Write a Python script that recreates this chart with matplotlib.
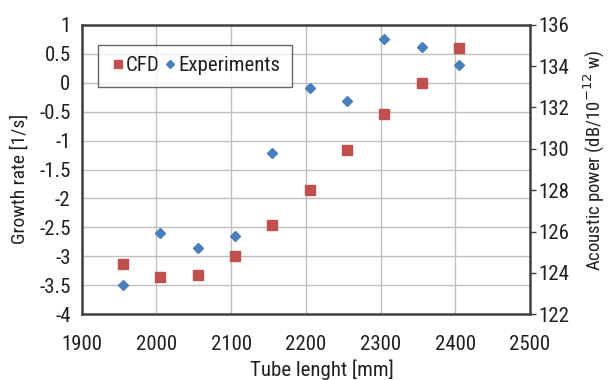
import matplotlib.pyplot as plt
from matplotlib import font_manager

# ----------------------------
# Data
# ----------------------------
tube_length = [1955, 2005, 2055, 2105, 2155, 2205, 2255, 2305, 2355, 2405]
cfd_growth = [-3.14, -3.35, -3.32, -3.0, -2.46, -1.86, -1.17, -0.55, 0.0, 0.59]
exp_growth = [-3.5, -2.6, -2.85, -2.64, -1.21, -0.09, -0.32, 0.75, 0.62, 0.31]

x_ticks = [1900, 2000, 2100, 2200, 2300, 2400, 2500]
y_ticks = [1, 0.5, 0, -0.5, -1, -1.5, -2, -2.5, -3, -3.5, -4]
y_tick_labels = ["1", "0.5", "0", "-0.5", "-1", "-1.5", "-2", "-2.5", "-3", "-3.5", "-4"]
power_ticks = [122, 124, 126, 128, 130, 132, 134, 136]

# Font: narrow sans if available
names = {f.name for f in font_manager.fontManager.ttflist}
font = "DejaVu Sans"
for cand in ["Roboto Condensed", "Liberation Sans Narrow", "Open Sans Condensed",
             "DejaVu Sans Condensed", "Liberation Sans"]:
    if cand in names:
        font = cand
        break
plt.rcParams['font.family'] = [font, 'DejaVu Sans']

text_col = '#231f20'
red = '#c0504d'
blue = '#4a7ebb'

# ----------------------------
# Figure and axis setup
# ----------------------------
fig = plt.figure(figsize=(6.08, 3.8), dpi=100)
ax = fig.add_axes([81.7 / 608, 1 - 314.3 / 380, (530 - 81.7) / 608, (314.3 - 24.7) / 380])

ax.plot(tube_length, cfd_growth, 's', color=red, markersize=7.5, label="CFD", zorder=3)
ax.plot(tube_length, exp_growth, 'D', color=blue, markersize=5.5, label="Experiments", zorder=3)

ax.set_xlim(1900, 2500)
ax.set_ylim(-4, 1)
ax.set_xticks(x_ticks)
ax.set_yticks(y_ticks)
ax.set_yticklabels(y_tick_labels)
ax.grid(True, color='#bfbfbf', linewidth=1)
ax.set_axisbelow(True)
ax.tick_params(length=0, labelsize=15, colors=text_col)
ax.tick_params(axis='x', pad=15)
ax.tick_params(axis='y', pad=8)
for s in ax.spines.values():
    s.set_color('#404040')
    s.set_linewidth(1.8)

ax.set_xlabel("Tube lenght [mm]", fontsize=15, color=text_col, va='center')
ax.xaxis.set_label_coords(0.536, -0.19)
ax.set_ylabel("Growth rate [1/s]", fontsize=14, color=text_col, va='center')
ax.yaxis.set_label_coords(-0.138, 0.467)

# Right axis for acoustic power
ax2 = ax.twinx()
ax2.set_ylim(122, 136)
ax2.set_yticks(power_ticks)
ax2.tick_params(length=4, width=1, colors='#404040', labelsize=15, labelcolor=text_col, pad=2)
for s in ax2.spines.values():
    s.set_visible(False)
ax2.set_ylabel("Acoustic power (dB/10$^{-12}$ w)", fontsize=13.5, color=text_col, va='center')
ax2.yaxis.set_label_coords(1.144, 0.533)

leg = ax.legend(loc='upper left', bbox_to_anchor=(0.036, 0.93), ncol=2, fontsize=15,
                frameon=True, fancybox=False, edgecolor='#404040', handletextpad=0.0,
                columnspacing=0.1, handlelength=0.8, borderpad=0.55, borderaxespad=0,
                labelcolor=text_col, markerscale=0.8)
leg.get_frame().set_linewidth(1)

fig.savefig("out.png", dpi=100)
